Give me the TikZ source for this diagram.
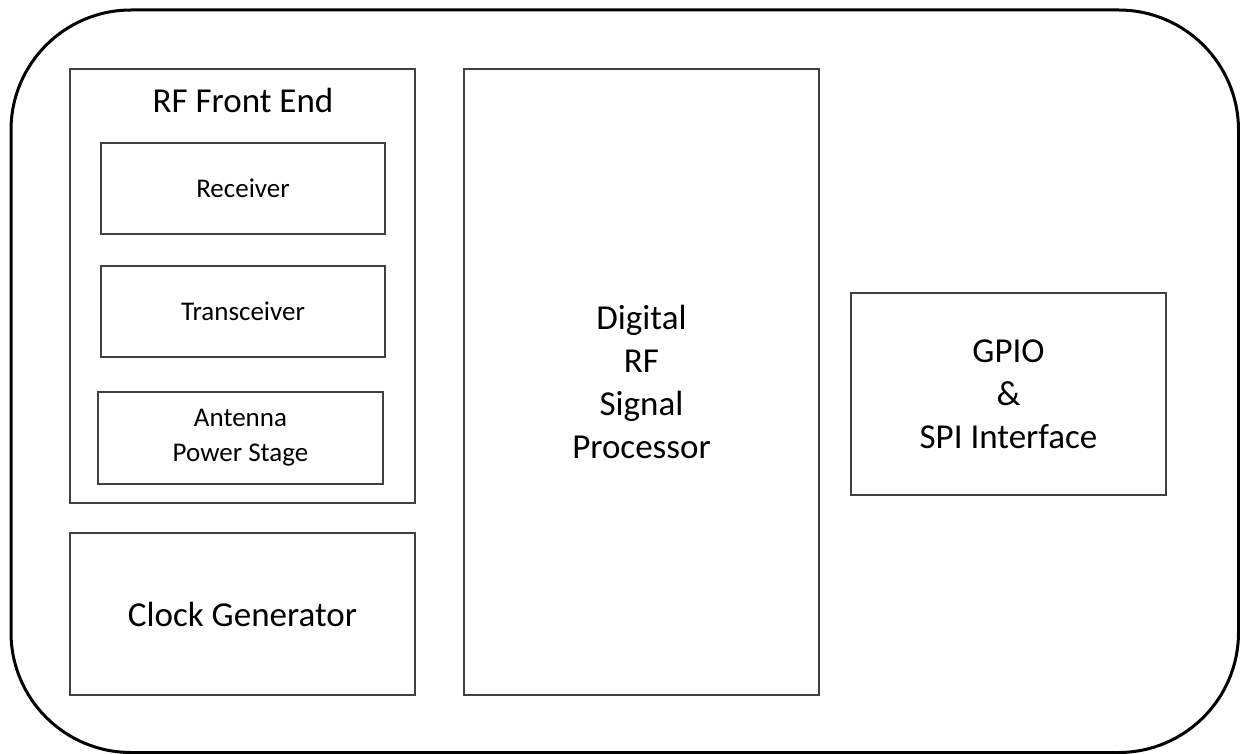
\documentclass[tikz,border=0pt]{standalone}
\usepackage{fontspec}
\setmainfont{Carlito}
\begin{document}
\begin{tikzpicture}[x=1pt,y=-1pt,
  box/.style={draw=black!75,line width=1.5pt,rectangle,inner sep=0pt,fill=white},
  big/.style={font=\fontsize{35}{43}\selectfont,align=center},
  small/.style={font=\fontsize{27}{35}\selectfont,align=center}]
\useasboundingbox (0,0) rectangle (1240,754);
\draw[line width=3pt,rounded corners=120pt] (11,10) rectangle (1238.5,752.5);
% RF front end
\node[box,minimum width=345pt,minimum height=434pt] (rf) at (242.5,286) {};
\node[big,anchor=center] (rft) at (243,100) {RF Front End};
\node[box,small,minimum width=284pt,minimum height=91pt] (rx) at (243,188.5) {Receiver};
\node[box,small,minimum width=284pt,minimum height=91pt] (tx) at (243,311.5) {Transceiver};
\node[box,small,minimum width=285pt,minimum height=92pt] (ant) at (240.5,438) {Antenna\\Power Stage};
% clock
\node[box,big,minimum width=345pt,minimum height=162pt] (clk) at (242.5,614) {Clock Generator};
% DSP
\node[box,big,minimum width=355pt,minimum height=626pt] (dsp) at (641.5,382) {Digital\\RF\\Signal\\Processor};
% GPIO
\node[box,big,minimum width=315pt,minimum height=202pt] (gpio) at (1008.5,394) {GPIO\\\&\\SPI Interface};
\end{tikzpicture}
\end{document}
